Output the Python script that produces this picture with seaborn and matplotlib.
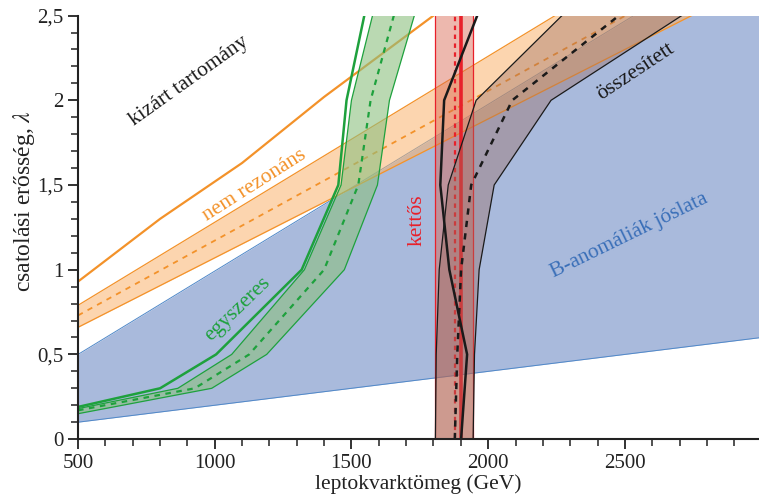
import numpy as np
import pandas as pd
import seaborn as sns
import matplotlib
matplotlib.use("Agg")
import matplotlib.pyplot as plt

# ---------------- data ----------------
# B-anomaly prediction band (linear edges)
blue_x = [500, 3000]
blue_lo = [0.10, 0.60]
blue_hi = [0.50, 2.96]

# non-resonant (orange)
nr_obs_x = [500, 800, 1100, 1400, 1800, 2000]
nr_obs_y = [0.93, 1.30, 1.63, 2.02, 2.50, 2.74]
nr_band_x = [500, 3000]
nr_lo = [0.66, 2.71]
nr_exp = [0.73, 2.94]
nr_hi = [0.79, 3.24]

# single production (green), parametrised by lambda
sg_lam = [0.17, 0.30, 0.50, 1.00, 1.50, 2.00, 2.50]
sg_obs_x = [500, 800, 1005, 1318, 1452, 1482, 1547]
sg_obs_lam = [0.19, 0.30, 0.50, 1.00, 1.50, 2.00, 2.50]
sg_hi_x = [500, 865, 1062, 1328, 1462, 1500, 1577]
sg_hi_lam = [0.18, 0.30, 0.50, 1.00, 1.50, 2.00, 2.50]
sg_lo_x = [500, 989, 1190, 1474, 1595, 1639, 1730]
sg_lo_lam = [0.15, 0.30, 0.50, 1.00, 1.50, 2.00, 2.50]
sg_exp_x = [500, 927, 1126, 1400, 1525, 1570, 1655]

# pair production (red), vertical
pair_lo, pair_exp, pair_obs, pair_hi = 1807, 1878, 1901, 1945

# combined (black), parametrised by lambda
cb_lam = [0.0, 0.5, 1.0, 1.5, 2.0, 2.5]
cb_obs_x = [1901, 1923, 1858, 1825, 1839, 1960]
cb_lo_x = [1807, 1810, 1821, 1854, 1956, 2270]
cb_exp_x = [1878, 1887, 1901, 1938, 2088, 2478]
cb_hi_x = [1945, 1950, 1967, 2022, 2230, 2708]

xticks = [500, 1000, 1500, 2000, 2500]
yticks = [0, 0.5, 1.0, 1.5, 2.0, 2.5]
ytick_labels = ["0", "0,5", "1", "1,5", "2", "2,5"]

# ---------------- style ----------------
sns.set_theme(style="ticks")
plt.rcParams["font.family"] = ["Liberation Serif", "DejaVu Serif"]
plt.rcParams["mathtext.fontset"] = "stix"

ORANGE = "#f3922a"
GREEN = "#1ea13d"
RED = "#e8202a"
BLUE_FILL = "#a9badc"
BLUE_EDGE = "#5088c8"
BLACK = "#1a1a1a"

fig = plt.figure(figsize=(7.59, 5.03), dpi=100)
ax = fig.add_axes([0.1028, 0.127, 0.897, 0.842])

# blue prediction band
ax.fill_between(blue_x, blue_lo, blue_hi, color=BLUE_FILL, lw=0, zorder=1)
sns.lineplot(x=blue_x, y=blue_lo, ax=ax, color=BLUE_EDGE, lw=0.7, zorder=1.1)
sns.lineplot(x=blue_x, y=blue_hi, ax=ax, color=BLUE_EDGE, lw=0.7, zorder=1.1)

# orange band
ax.fill_between(nr_band_x, nr_lo, nr_hi, color="#fab46e", alpha=0.55, lw=0, zorder=2)
for yy in (nr_lo, nr_hi):
    sns.lineplot(x=nr_band_x, y=yy, ax=ax, color=ORANGE, lw=0.9, zorder=2.1)
sns.lineplot(x=nr_band_x, y=nr_exp, ax=ax, color=ORANGE, lw=1.3, zorder=2.2)
ax.lines[-1].set_dashes([3, 3])
sns.lineplot(x=nr_obs_x, y=nr_obs_y, ax=ax, color=ORANGE, lw=1.6, zorder=2.3)

# green band (parametrised by lambda)
poly_x = list(sg_hi_x) + list(sg_lo_x[::-1])
poly_y = list(sg_hi_lam) + list(sg_lo_lam[::-1])
ax.fill(poly_x, poly_y, color="#8cc07f", alpha=0.6, lw=0, zorder=3)
sns.lineplot(x=sg_hi_x, y=sg_hi_lam, ax=ax, color=GREEN, lw=0.9, sort=False, estimator=None, zorder=3.1)
sns.lineplot(x=sg_lo_x, y=sg_lo_lam, ax=ax, color=GREEN, lw=0.9, sort=False, estimator=None, zorder=3.1)
sns.lineplot(x=sg_exp_x, y=sg_lam, ax=ax, color=GREEN, lw=1.6, sort=False, estimator=None, zorder=3.2)
ax.lines[-1].set_dashes([2.5, 2.5])
sns.lineplot(x=sg_obs_x, y=sg_obs_lam, ax=ax, color=GREEN, lw=1.8, sort=False, estimator=None, zorder=3.3)

# red pair band
ax.axvspan(pair_lo, pair_hi, color="#d9634c", alpha=0.45, lw=0, zorder=4)
ax.axvline(pair_lo, color=RED, lw=0.9, zorder=4.1)
ax.axvline(pair_hi, color=RED, lw=0.9, zorder=4.1)
ax.axvline(pair_exp, color=RED, lw=1.6, ls=(0, (2, 2)), zorder=4.2)
ax.axvline(pair_obs, color=RED, lw=2.6, zorder=4.3)

# black combined band
poly_x = list(cb_lo_x) + list(cb_hi_x[::-1])
poly_y = list(cb_lam) + list(cb_lam[::-1])
ax.fill(poly_x, poly_y, color="#9a6a5e", alpha=0.38, lw=0, zorder=5)
sns.lineplot(x=cb_lo_x, y=cb_lam, ax=ax, color=BLACK, lw=0.9, sort=False, estimator=None, zorder=5.1)
sns.lineplot(x=cb_hi_x, y=cb_lam, ax=ax, color=BLACK, lw=0.9, sort=False, estimator=None, zorder=5.1)
sns.lineplot(x=cb_exp_x, y=cb_lam, ax=ax, color=BLACK, lw=1.8, sort=False, estimator=None, zorder=5.2)
ax.lines[-1].set_dashes([2.5, 2.5])
sns.lineplot(x=cb_obs_x, y=cb_lam, ax=ax, color=BLACK, lw=1.8, sort=False, estimator=None, zorder=5.3)

# annotations
fs = 15.5
ax.text(905, 2.11, "kizárt tartomány", rotation=35.5, color="#1a1a1a", fontsize=fs,
        ha="center", va="center", rotation_mode="anchor", zorder=10)
ax.text(1146, 1.50, "nem rezonáns", rotation=32.5, color=ORANGE, fontsize=fs,
        ha="center", va="center", rotation_mode="anchor", zorder=10)
ax.text(1084, 0.77, "egyszeres", rotation=44, color=GREEN, fontsize=fs,
        ha="center", va="center", rotation_mode="anchor", zorder=10)
ax.text(1741, 1.29, "kettős", rotation=90, color=RED, fontsize=fs,
        ha="center", va="center", rotation_mode="anchor", zorder=10)
ax.text(2540, 2.17, "összesített", rotation=33.5, color="#1a1a1a", fontsize=fs,
        ha="center", va="center", rotation_mode="anchor", zorder=10)
ax.text(2518, 1.20, "B-anomáliák jóslata", rotation=26, color="#3a6fb8", fontsize=fs,
        ha="center", va="center", rotation_mode="anchor", zorder=10)

# axes
ax.set_xlim(500, 2990)
ax.set_ylim(0, 2.5)
ax.set_xticks(xticks)
ax.set_xticklabels([str(t) for t in xticks])
ax.set_yticks(yticks)
ax.set_yticklabels(ytick_labels)
ax.set_xticks(np.arange(500, 2991, 100), minor=True)
ax.set_yticks(np.arange(0, 2.51, 0.1), minor=True)
ax.tick_params(axis="both", which="major", direction="out", length=7, width=1.3,
               labelsize=15, colors="#222222")
ax.tick_params(axis="both", which="minor", direction="out", length=5, width=1.1,
               colors="#222222")
for s in ("top", "right"):
    ax.spines[s].set_visible(False)
for s in ("left", "bottom"):
    ax.spines[s].set_linewidth(1.5)
    ax.spines[s].set_color("#222222")
    ax.spines[s].set_zorder(20)
ax.set_xlabel("leptokvarktömeg (GeV)", fontsize=fs, color="#222222", labelpad=1)
ax.set_ylabel("csatolási erősség, $\\lambda$", fontsize=17, color="#222222")
ax.yaxis.set_label_coords(-0.06, 0.562)

fig.savefig("out.png", dpi=100)
